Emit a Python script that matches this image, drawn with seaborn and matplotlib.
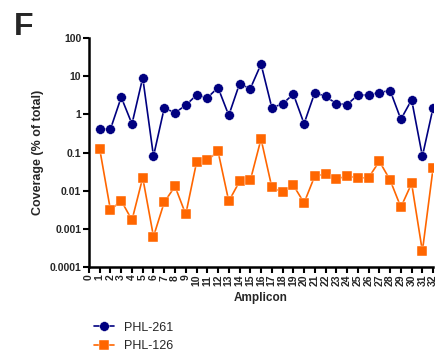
import numpy as np
import pandas as pd
import matplotlib
matplotlib.use("Agg")
import matplotlib.pyplot as plt
import seaborn as sns
from matplotlib.ticker import FixedLocator, NullLocator

amplicons = list(range(1, 33))
phl_261 = [0.41, 0.41, 2.8, 0.56, 9.1, 0.08, 1.46, 1.1, 1.72, 3.2,
           2.7, 5.0, 0.94, 6.3, 4.7, 20.6, 1.5, 1.86, 3.4, 0.57,
           3.7, 2.95, 1.9, 1.8, 3.2, 3.2, 3.7, 4.2, 0.74, 2.4,
           0.08, 1.5]
phl_126 = [0.124, 0.0031, 0.0055, 0.0017, 0.022, 0.00063, 0.005, 0.013, 0.0024, 0.055,
           0.062, 0.108, 0.0053, 0.0175, 0.0186, 0.226, 0.0124, 0.009, 0.014, 0.0048,
           0.0245, 0.027, 0.020, 0.0245, 0.0214, 0.022, 0.059, 0.019, 0.0037, 0.0155,
           0.00026, 0.040]
series_names = ["PHL-261", "PHL-126"]
colors = ["#000080", "#FF6600"]
y_ticks = [0.0001, 0.001, 0.01, 0.1, 1, 10, 100]
y_tick_labels = ["0.0001", "0.001", "0.01", "0.1", "1", "10", "100"]

df = pd.concat([
    pd.DataFrame({"Amplicon": amplicons, "Coverage": phl_261, "Sample": series_names[0]}),
    pd.DataFrame({"Amplicon": amplicons, "Coverage": phl_126, "Sample": series_names[1]}),
], ignore_index=True)

sns.set_theme(style="ticks")
plt.rcParams["font.family"] = ["Liberation Sans", "DejaVu Sans"]

fig = plt.figure(figsize=(4.47, 3.51), dpi=100)
ax = fig.add_axes([0.199, 0.239, 0.77, 0.653])

sns.lineplot(data=df, x="Amplicon", y="Coverage", hue="Sample", style="Sample",
             hue_order=series_names, style_order=series_names,
             palette=colors, markers={"PHL-261": "o", "PHL-126": "s"},
             dashes=False, markersize=7, markeredgewidth=0.3,
             linewidth=1.2, ax=ax)

ax.set_yscale("log")
ax.set_ylim(0.0001, 100)
ax.set_xlim(0, 32)
ax.yaxis.set_major_locator(FixedLocator(y_ticks))
ax.yaxis.set_minor_locator(NullLocator())
ax.set_yticklabels(y_tick_labels)
ax.set_xticks(range(0, 33))
ax.set_xticklabels([str(i) for i in range(0, 33)], rotation=90)

for lab in ax.get_xticklabels() + ax.get_yticklabels():
    lab.set_fontweight("bold")
    lab.set_fontsize(7.5)
ax.tick_params(axis="both", length=4, width=1.5, pad=1.5, color="black")

sns.despine(ax=ax)
for side in ["left", "bottom"]:
    ax.spines[side].set_linewidth(1.8)
    ax.spines[side].set_color("black")

ax.set_xlabel("Amplicon", fontsize=8.5, fontweight="bold", labelpad=4)
ax.set_ylabel("Coverage (% of total)", fontsize=9, fontweight="bold", labelpad=4)

ax.get_legend().remove()
handles, labels = ax.get_legend_handles_labels()
fig.legend(handles, labels, loc="upper left", bbox_to_anchor=(0.2, 0.098),
           frameon=False, fontsize=9, handlelength=1.6, handletextpad=0.8,
           labelspacing=0.55, borderaxespad=0)

fig.text(0.03, 0.965, "F", fontsize=23, fontweight="bold", va="top", ha="left")

fig.savefig("out.png", dpi=100)
